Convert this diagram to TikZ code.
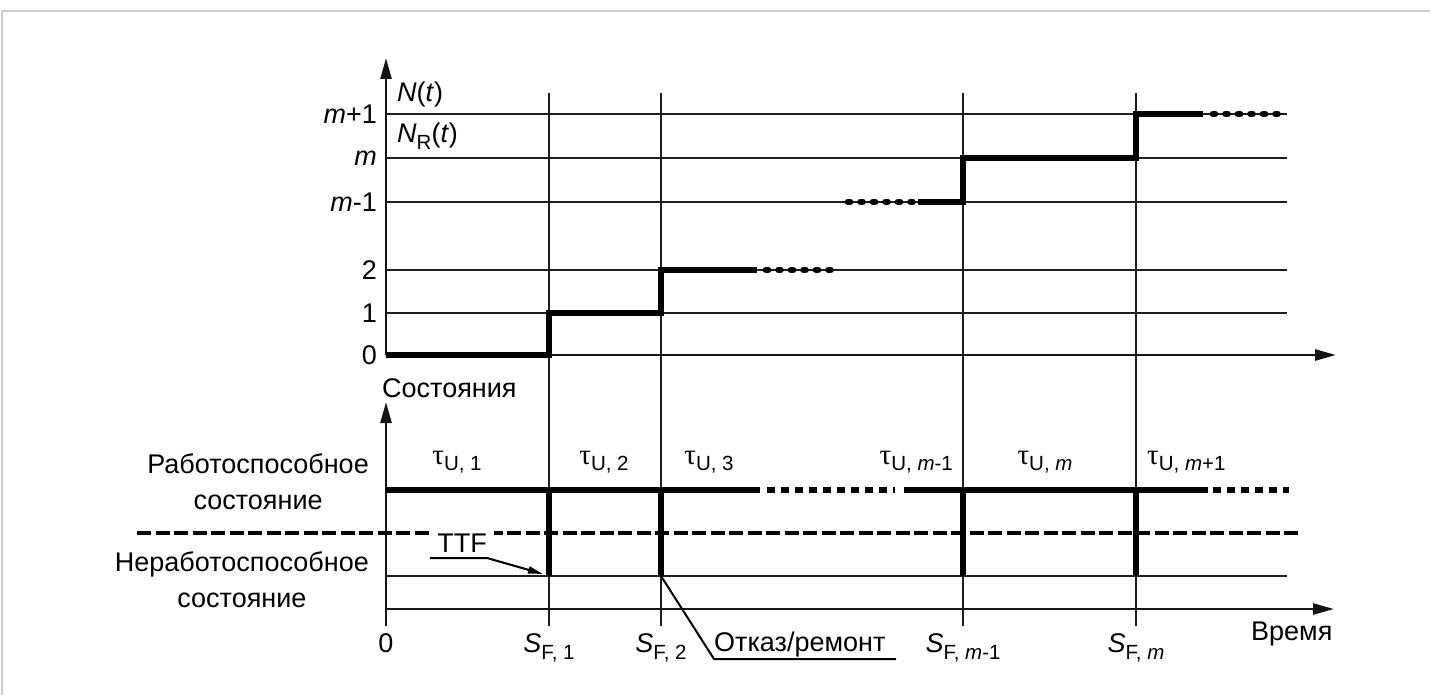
\documentclass[tikz,border=0pt]{standalone}
\usepackage{fontspec}
\setmainfont{Liberation Sans}
\newfontfamily\greekfont{Liberation Serif}
\usetikzlibrary{arrows.meta}
\newcommand{\lsub}[1]{\raisebox{-6.5pt}{\fontsize{20.5}{22}\selectfont #1}}
\newcommand{\tauU}[1]{{\greekfont\fontsize{29}{30}\selectfont τ}\lsub{U, #1}}
\newcommand{\SF}[1]{\textit{S}\lsub{F, #1}}
\begin{document}
\begin{tikzpicture}[x=1pt,y=-1pt,
  font=\fontsize{27}{36}\selectfont,
  lbl/.style={inner sep=0pt, text=black},
  grid/.style={line width=2.3pt, draw=black!88},
  axisline/.style={line width=2.6pt, draw=black!92, -{Triangle[length=21pt,width=11pt]}},
  fat/.style={line width=6.2pt, draw=black, line join=miter},
  rounddots/.style={line width=6.8pt, draw=black, line cap=round, dash pattern=on 2pt off 10.5pt},
  squaredots/.style={line width=6.8pt, draw=black, dash pattern=on 8pt off 6pt},
  sepline/.style={line width=3.8pt, draw=black, dash pattern=on 14pt off 4.5pt},
  frameline/.style={line width=2pt, draw=black!20}]
\useasboundingbox (0,0) rectangle (1430,695);
\fill[white] (0,0) rectangle (1430,695);
\draw[frameline] (2,695) -- (2,11) -- (1430,11);

% ---------- upper chart ----------
\coordinate (O) at (386,355);
\coordinate (Ytop) at (386,58);
\coordinate (Xend) at (1336,355);
\foreach \yy in {114, 158, 202, 270, 313}{
  \draw[grid] (386,\yy) -- (1287,\yy);
}
% vertical event lines
\foreach \xx/\nm in {549/a, 661/b, 963/c, 1136/d}{
  \coordinate (\nm top) at (\xx,93);
  \coordinate (\nm bot) at (\xx,626);
  \coordinate (\nm up) at (\xx,490);
  \coordinate (\nm dn) at (\xx,576);
  \draw[grid] (\nm top) -- (\nm bot);
}
\draw[axisline] (O) -- (Ytop);
\draw[axisline] (O) -- (Xend);

% step function
\draw[fat] (386,355) -- (549,355) -- (549,313) -- (661,313) -- (661,270) -- (757,270);
\draw[rounddots] (766,270) -- (836,270);
\draw[rounddots] (848,202) -- (914,202);
\draw[fat] (918,202) -- (963,202) -- (963,158) -- (1136,158) -- (1136,114) -- (1203,114);
\draw[rounddots] (1213,114) -- (1285,114);

% y labels
\node[lbl, anchor=east] (lmp) at (377,114) {\textit{m}+1};
\node[lbl, anchor=east] (lm)  at (377,158) {\textit{m}};
\node[lbl, anchor=east] (lmm) at (377,202) {\textit{m}-1};
\node[lbl, anchor=east] (l2)  at (377,270) {2};
\node[lbl, anchor=east] (l1)  at (377,313) {1};
\node[lbl, anchor=east] (l0)  at (377,355) {0};
\node[lbl, anchor=west] (Nt)  at (397,95) {\textit{N}(\textit{t})};
\node[lbl, anchor=west] (NRt) at (397,136) {\textit{N}\lsub{R}(\textit{t})};
\node[lbl, anchor=west] (st)  at (382,388) {Состояния};

% ---------- lower chart ----------
\coordinate (O2) at (386,626);
\coordinate (Y2top) at (386,402);
\coordinate (X2start) at (386,609);
\coordinate (X2end) at (1334,609);
\draw[grid] (386,576) -- (1287,576);
\draw[axisline] (O2) -- (Y2top);
\draw[axisline] (X2start) -- (X2end);

\draw[sepline] (137,533) -- (1301,533);

\draw[fat] (386,490) -- (760,490);
\draw[squaredots] (767,490) -- (895,490);
\draw[fat] (904,490) -- (1208,490);
\draw[squaredots] (1213,490) -- (1289,490);
\foreach \nm in {a,b,c,d}{
  \draw[fat] (\nm up) -- (\nm dn);
}

% state labels
\node[lbl, anchor=east, align=center] (up) at (369,482) {Работоспособное\\состояние};
\node[lbl, anchor=east, align=center] (down) at (369,580) {Неработоспособное\\состояние};

% tau labels
\node[lbl] (t1) at (457,462) {\tauU{1}};
\node[lbl] (t2) at (604,462) {\tauU{2}};
\node[lbl] (t3) at (709,462) {\tauU{3}};
\node[lbl, anchor=east] (tm1) at (953,462) {\tauU{\textit{m}-1}};
\node[lbl] (tm) at (1045,462) {\tauU{\textit{m}}};
\node[lbl, anchor=west] (tmp1) at (1147,462) {\tauU{\textit{m}+1}};

% time labels
\node[lbl] (z) at (386,643) {0};
\node[lbl] (s1) at (549,648) {\SF{1}};
\node[lbl] (s2) at (661,648) {\SF{2}};
\node[lbl] (sm1) at (963,648) {\SF{\textit{m}-1}};
\node[lbl] (sm) at (1136,648) {\SF{\textit{m}}};
\node[lbl, anchor=west] (time) at (1251,634) {Время};

% TTF (breaks the dashed separator)
\node[lbl, fill=white, inner xsep=7pt, inner ysep=4pt] (ttf) at (462,543) {TTF};
\coordinate (ttfa) at (430,558);
\coordinate (ttfb) at (487,558);
\coordinate (ttfc) at (543,574);
\draw[line width=2pt, -{Triangle[length=15pt,width=7pt]}] (ttfa) -- (ttfb) -- (ttfc);

% failure / repair
\node[lbl, anchor=base west] (rep) at (714,651) {Отказ/ремонт};
\coordinate (rp) at (661,576);
\coordinate (rq) at (714,659);
\coordinate (rr) at (896,659);
\draw[line width=2pt] (rp) -- (rq) -- (rr);
\end{tikzpicture}
\end{document}
